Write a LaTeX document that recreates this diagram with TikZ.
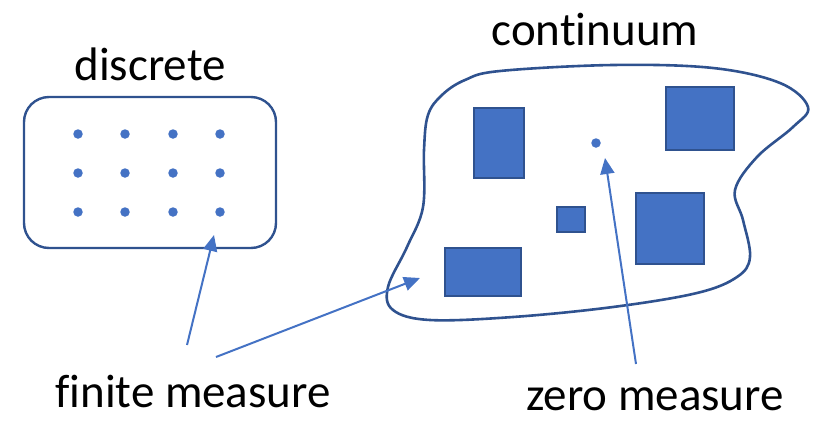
\documentclass[tikz,border=0pt]{standalone}
\usepackage{fontspec}
\setmainfont{Carlito}[Ligatures=NoCommon]
\usetikzlibrary{arrows.meta}
\definecolor{accent}{HTML}{4472C4}
\definecolor{edgeblue}{HTML}{2F528F}

\begin{document}
\begin{tikzpicture}[x=1pt,y=-1pt,>={Triangle[length=16pt,width=14pt]},
                    label node/.style={font=\fontsize{47}{56}\selectfont,anchor=base,inner sep=0pt},
                    pt node/.style={circle,fill=accent,minimum size=9.5pt,inner sep=0pt},
                    block node/.style={rectangle,draw=edgeblue,fill=accent,line width=1.6pt,inner sep=0pt},
                    pointer/.style={->,draw=accent,line width=2pt}]

  \useasboundingbox (0,0) rectangle (815,421);

  % titles and labels
  \node[label node] (discrete) at (150,80) {discrete};
  \node[label node] (continuum) at (595,45) {continuum};
  \node[label node] (finite) at (193,407) {finite measure};
  \node[label node] (zero) at (655,410) {zero measure};

  % discrete set
  \node[draw=edgeblue,line width=2.4pt,rounded corners=25pt,
        minimum width=252pt,minimum height=151pt] (box) at (150,172.5) {};
  \foreach \i/\x in {1/78,2/125,3/173,4/220}
    \foreach \j/\y in {1/134,2/173,3/212}
      \node[pt node] (d\i\j) at (\x,\y) {};

  % continuum set
  \draw[edgeblue,line width=2.6pt] plot[smooth cycle,tension=0.6] coordinates {
    (428,115) (442,95) (465,80) (500,71) (613,65) (713,68) (780,83)
    (808,107) (793,127) (757,157) (735,190) (743,220) (750,257) (737,277)
    (697,293) (613,307) (513,317) (430,320) (393,310) (388,287) (407,247)
    (423,207) (424,150)};
  \node[block node,minimum width=50pt,minimum height=70pt] (b1) at (499,143) {};
  \node[block node,minimum width=68pt,minimum height=63pt] (b2) at (700,118.5) {};
  \node[block node,minimum width=28pt,minimum height=25pt] (b3) at (571,219.5) {};
  \node[block node,minimum width=68pt,minimum height=71pt] (b4) at (670,228.5) {};
  \node[block node,minimum width=76pt,minimum height=48pt] (b5) at (483,272) {};
  \node[pt node] (p0) at (596,143) {};

  % pointers
  \coordinate (fa) at (187,345);
  \coordinate (fb) at (216,357);
  \coordinate (za) at (636,364);
  \coordinate (ta) at (214,235);
  \coordinate (tb) at (420,278);
  \coordinate (tz) at (605,158);
  \draw[pointer] (fa) -- (ta);
  \draw[pointer] (fb) -- (tb);
  \draw[pointer] (za) -- (tz);
\end{tikzpicture}
\end{document}
